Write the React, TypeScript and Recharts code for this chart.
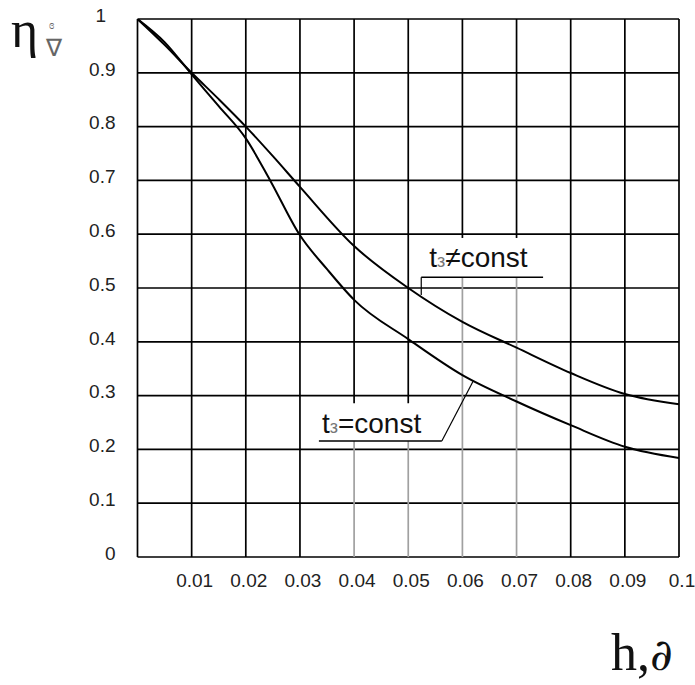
import React from 'react';
import { LineChart, Line, XAxis, YAxis, CartesianGrid, ReferenceLine } from 'recharts';

// t_з = const (lower curve, has a bend near 0.025)
const hConst = [0, 0.005, 0.01, 0.015, 0.02, 0.0245, 0.03, 0.035, 0.04, 0.05, 0.06, 0.07, 0.08, 0.09, 0.1];
const etaConst = [1, 0.957, 0.897, 0.838, 0.778, 0.7, 0.598, 0.535, 0.478, 0.405, 0.338, 0.289, 0.245, 0.205, 0.184];

// t_з ≠ const (upper curve)
const hVar = [0, 0.005, 0.01, 0.015, 0.02, 0.025, 0.03, 0.04, 0.05, 0.06, 0.07, 0.08, 0.09, 0.1];
const etaVar = [1, 0.952, 0.9, 0.851, 0.8, 0.745, 0.688, 0.578, 0.5, 0.437, 0.389, 0.342, 0.303, 0.284];

const hTicks = [0.01, 0.02, 0.03, 0.04, 0.05, 0.06, 0.07, 0.08, 0.09, 0.1];
const hTickLabels = ['0.01', '0.02', '0.03', '0.04', '0.05', '0.06', '0.07', '0.08', '0.09', '0.1'];
const etaTicks = [0, 0.1, 0.2, 0.3, 0.4, 0.5, 0.6, 0.7, 0.8, 0.9, 1];
const etaTickLabels = ['0', '0.1', '0.2', '0.3', '0.4', '0.5', '0.6', '0.7', '0.8', '0.9', '1\u2002'];
const hGrid = [0, 0.01, 0.02, 0.03, 0.04, 0.05, 0.06, 0.07, 0.08, 0.09, 0.1];

// where the label boxes cut the vertical grid lines
const gridBreaks = [
  { h: [0.04, 0.05], top: 0.286, bottom: 0.2156 },
  { h: [0.06, 0.07], top: 0.593, bottom: 0.52 },
];

const constData = hConst.map((h, i) => ({ h, eta: etaConst[i] }));
const varData = hVar.map((h, i) => ({ h, eta: etaVar[i] }));

const GRAY = '#a0a0a0';
const SANS = '"Liberation Sans", Arial, sans-serif';
const SERIF = '"Liberation Serif", "Times New Roman", serif';

const XTick = ({ x, y, payload }: any) => {
  const i = hTicks.indexOf(payload.value);
  return (
    <text x={x + 3} y={y} dy="0.355em" textAnchor="middle" fontFamily={SANS} fontSize={19} fill="#222">
      {hTickLabels[i]}
    </text>
  );
};

const YTick = ({ x, y, payload }: any) => {
  const i = etaTicks.indexOf(payload.value);
  return (
    <text x={x} y={y - 4} dy="0.355em" textAnchor="end" fontFamily={SANS} fontSize={19} fill="#222">
      {etaTickLabels[i]}
    </text>
  );
};

const tag = (rel: string, dx: number, dy: number) => (props: any) => {
  const vb = props.viewBox || {};
  return (
    <text x={vb.x + dx} y={vb.y - dy} fontFamily={SANS} fontSize={28} fill="#111">
      t<tspan fontSize={18} fill="#777">з</tspan>{rel}const
    </text>
  );
};

const gridSegments = () => {
  const out: React.ReactNode[] = [];
  hGrid.forEach((h, k) => {
    const br = gridBreaks.find(b => b.h.includes(h));
    if (!br) {
      out.push(<ReferenceLine key={`v${k}`} segment={[{ x: h, y: 0 }, { x: h, y: 1 }]} stroke="#000" strokeWidth={1.7} />);
    } else {
      out.push(<ReferenceLine key={`vt${k}`} segment={[{ x: h, y: br.top }, { x: h, y: 1 }]} stroke="#000" strokeWidth={1.7} />);
      out.push(<ReferenceLine key={`vb${k}`} segment={[{ x: h, y: 0 }, { x: h, y: br.bottom }]} stroke={GRAY} strokeWidth={1.7} />);
    }
  });
  return out;
};

export default function App() {
  return (
    <div style={{ position: 'absolute', left: 0, top: 0, width: 695, height: 685, background: '#fff' }}>
      <LineChart width={695} height={685} margin={{ top: 19, right: 16, bottom: 98, left: 77.5 }}>
        <CartesianGrid vertical={false} stroke="#000" strokeWidth={1.7} horizontalValues={etaTicks} />
        <XAxis
          type="number"
          dataKey="h"
          domain={[0, 0.1]}
          ticks={hTicks}
          tick={<XTick />}
          tickSize={0}
          tickMargin={23}
          axisLine={false}
          height={30}
          allowDataOverflow
        />
        <YAxis
          type="number"
          domain={[0, 1]}
          ticks={etaTicks}
          tick={<YTick />}
          tickSize={0}
          tickMargin={22}
          axisLine={false}
          width={60}
          allowDataOverflow
        />
        {gridSegments()}
        <Line data={constData} dataKey="eta" type="monotone" stroke="#000" strokeWidth={2} dot={false} isAnimationActive={false} />
        <Line data={varData} dataKey="eta" type="monotone" stroke="#000" strokeWidth={2} dot={false} isAnimationActive={false} />
        {/* t_з = const label: underline + slanted leader */}
        <ReferenceLine segment={[{ x: 0.0335, y: 0.2156 }, { x: 0.0562, y: 0.2156 }]} stroke="#000" strokeWidth={1.4} label={tag('=', 3, 8)} />
        <ReferenceLine segment={[{ x: 0.0562, y: 0.2156 }, { x: 0.062, y: 0.327 }]} stroke="#000" strokeWidth={1.2} />
        {/* t_з ≠ const label: underline + vertical leader */}
        <ReferenceLine segment={[{ x: 0.0524, y: 0.52 }, { x: 0.0749, y: 0.52 }]} stroke="#000" strokeWidth={1.4} label={tag('≠', 8, 10)} />
        <ReferenceLine segment={[{ x: 0.0524, y: 0.487 }, { x: 0.0524, y: 0.52 }]} stroke="#000" strokeWidth={1.2} />
      </LineChart>
      <svg width={695} height={685} style={{ position: 'absolute', left: 0, top: 0, pointerEvents: 'none' }}>
        <text x={11} y={47} fontFamily={SERIF} fontSize={52} fill="#111">η</text>
        <text x={49} y={29} fontFamily={SERIF} fontSize={12} fill="#666">ɞ</text>
        <text x={46} y={56} fontFamily={SERIF} fontSize={24} fill="#666">∇</text>
        <text x={611} y={670} fontFamily={SERIF} fontSize={52} fill="#111">
          h,<tspan fontFamily='"DejaVu Serif", serif' fontSize={44}>∂</tspan>
        </text>
      </svg>
    </div>
  );
}
